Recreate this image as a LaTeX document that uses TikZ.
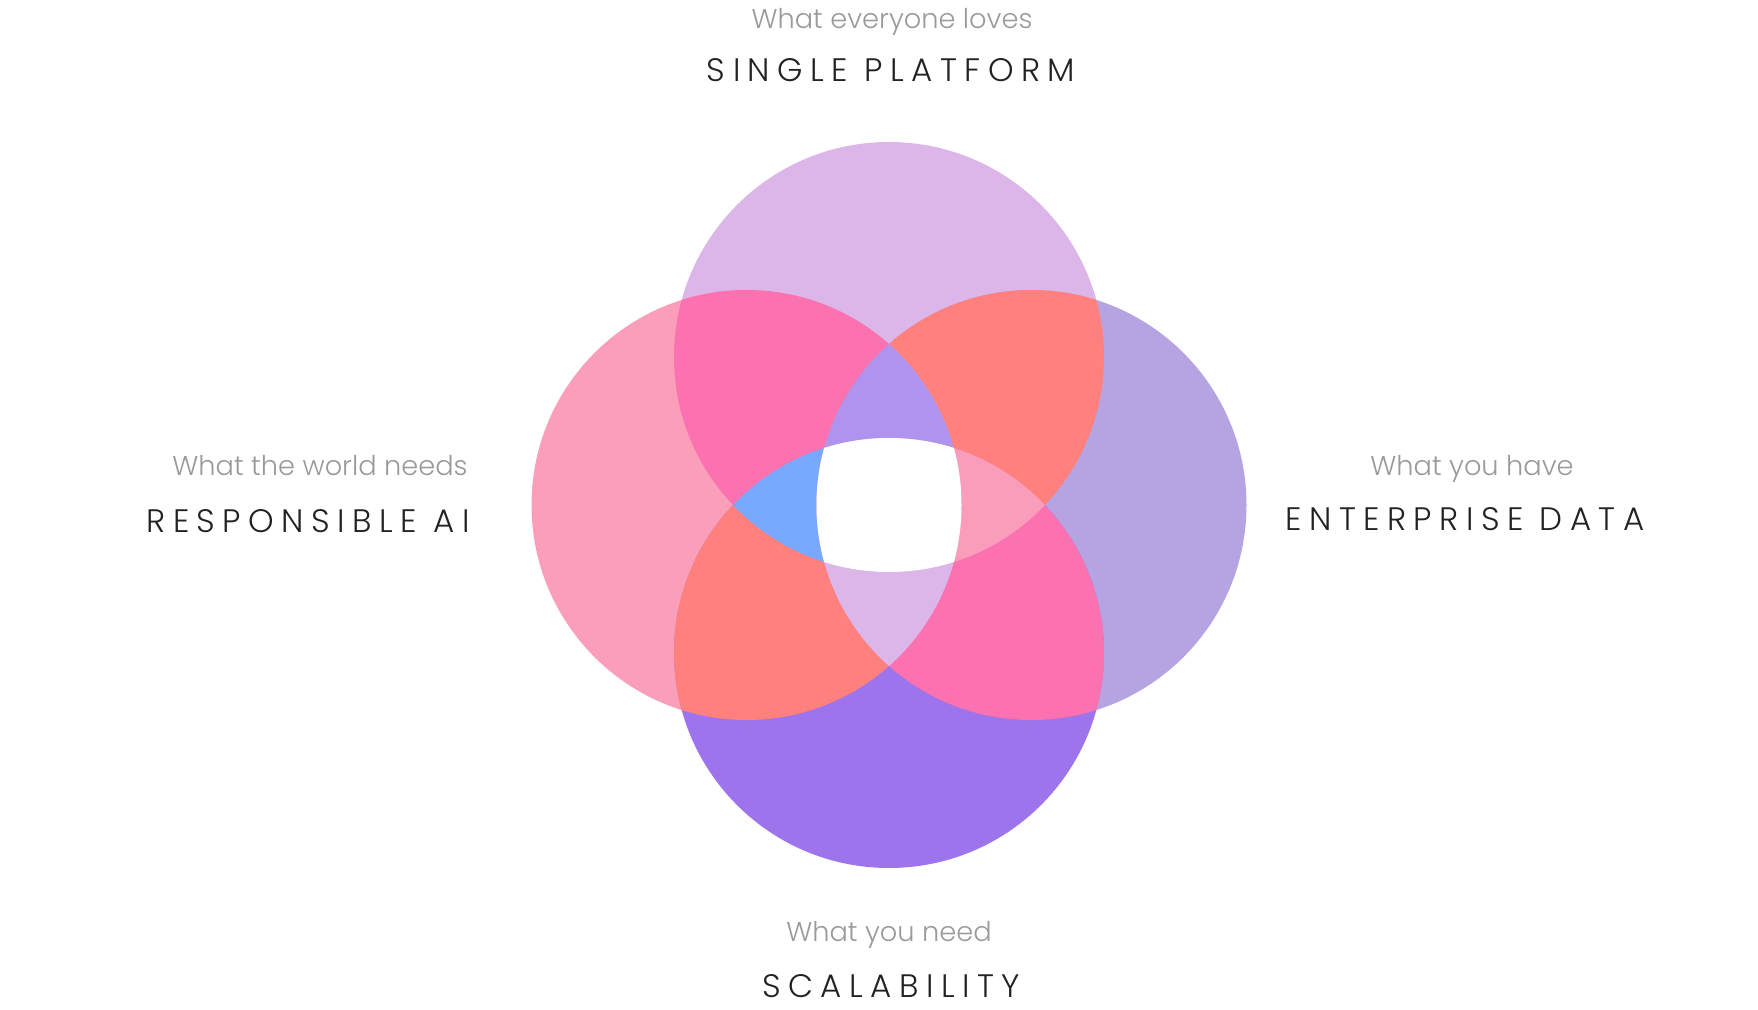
\documentclass[tikz,border=0pt]{standalone}
\usepackage{fontspec}
\setmainfont{Poppins}[UprightFont={* Light}]
\newfontfamily\capsfont{Poppins}[UprightFont={* Light},LetterSpace=23]

\definecolor{topcol}{HTML}{DCB6E8}
\definecolor{leftcol}{HTML}{FA9EBA}
\definecolor{rightcol}{HTML}{B6A3E2}
\definecolor{bottomcol}{HTML}{9E74EC}
\definecolor{pinkpair}{HTML}{FC72B0}
\definecolor{salmonpair}{HTML}{FF807C}
\definecolor{uppertriple}{HTML}{B093EE}
\definecolor{bluetriple}{HTML}{78A8FF}
\definecolor{eastertriple}{HTML}{F99DBA}
\definecolor{lowertriple}{HTML}{DCB6E8}
\definecolor{greytext}{HTML}{9A9A9A}
\definecolor{darktext}{HTML}{222222}

\newcommand{\topdisc}{(889,357) circle (215)}
\newcommand{\leftdisc}{(746.5,505) circle (215)}
\newcommand{\rightdisc}{(1031.5,505) circle (215)}
\newcommand{\bottomdisc}{(889,653) circle (215)}

\begin{document}
\begin{tikzpicture}[x=0.02cm,y=-0.02cm,
  tagline/.style={text=greytext,font=\fontsize{15.5}{18}\selectfont,anchor=base,inner sep=0pt},
  heading/.style={text=darktext,font=\capsfont\fontsize{18.5}{22}\selectfont,anchor=base,inner sep=0pt}]

\useasboundingbox (0,0) rectangle (1758,1010);

% ===== Single circles =====
\fill[topcol] \topdisc;
\fill[leftcol] \leftdisc;
\fill[rightcol] \rightdisc;
\fill[bottomcol] \bottomdisc;

% ===== Two circles =====
\begin{scope} \clip \topdisc; \fill[pinkpair] \leftdisc; \fill[salmonpair] \rightdisc; \end{scope}
\begin{scope} \clip \bottomdisc; \fill[salmonpair] \leftdisc; \fill[pinkpair] \rightdisc; \end{scope}

% ===== Three circles =====
\begin{scope} \clip \topdisc; \clip \leftdisc; \fill[uppertriple] \rightdisc; \end{scope}
\begin{scope} \clip \topdisc; \clip \leftdisc; \fill[bluetriple] \bottomdisc; \end{scope}
\begin{scope} \clip \topdisc; \clip \rightdisc; \fill[eastertriple] \bottomdisc; \end{scope}
\begin{scope} \clip \leftdisc; \clip \rightdisc; \fill[lowertriple] \bottomdisc; \end{scope}

% ===== Four circles =====
\begin{scope} \clip \topdisc; \clip \leftdisc; \clip \rightdisc; \fill[white] \bottomdisc; \end{scope}

% ===== Labels =====
\node[tagline] (loves) at (892,29) {What everyone loves};
\node[heading] (platform) at (891,82) {SINGLE PLATFORM};

\node[tagline] (needs) at (320,475) {What the world needs};
\node[heading] (responsible) at (308,532) {RESPONSIBLE AI};

\node[tagline] (have) at (1472,475) {What you have};
\node[heading] (enterprise) at (1465,530) {ENTERPRISE DATA};

\node[tagline] (need) at (889,941) {What you need};
\node[heading] (scalability) at (891,997) {SCALABILITY};

\end{tikzpicture}
\end{document}
